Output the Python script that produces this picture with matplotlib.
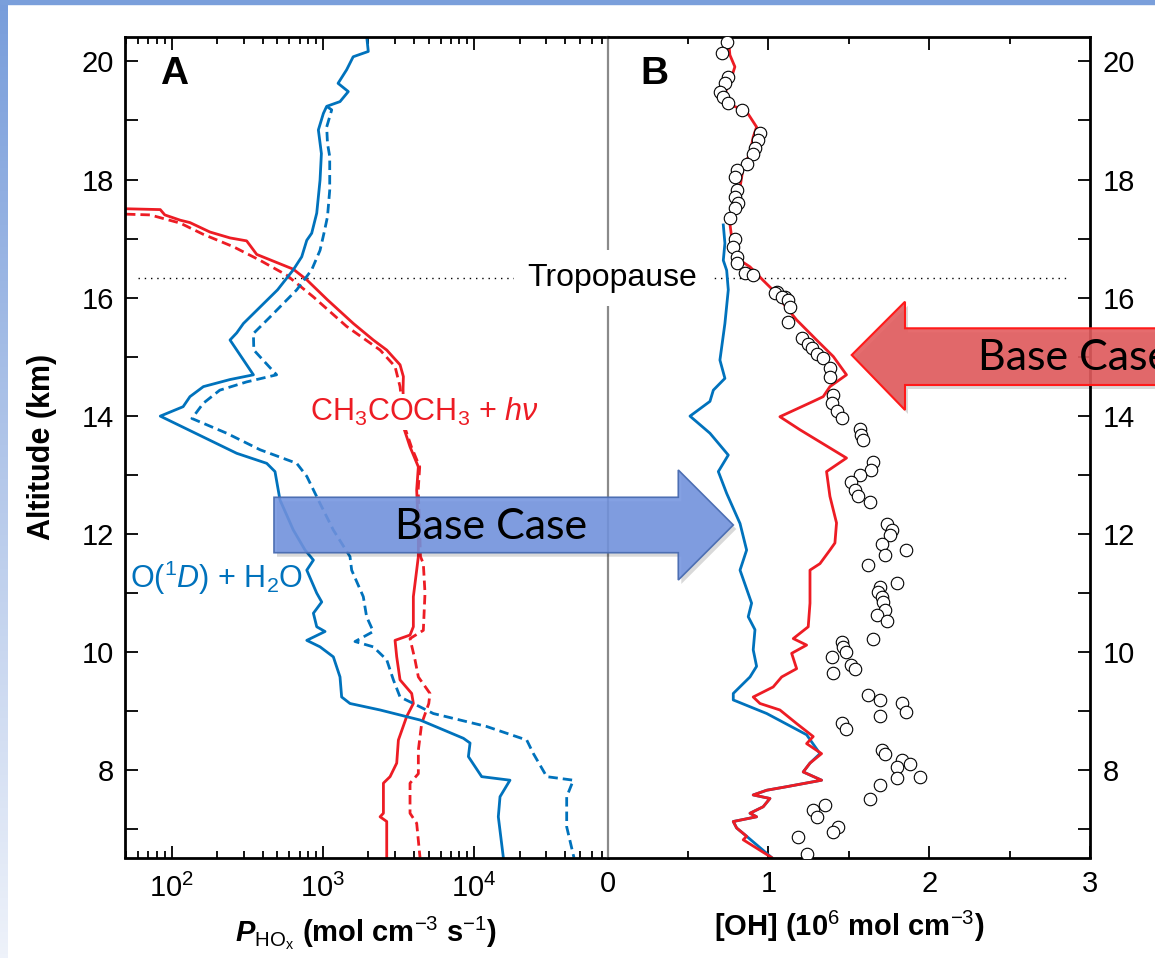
import numpy as np
import matplotlib
matplotlib.use("Agg")
import matplotlib.pyplot as plt
from matplotlib.patches import Polygon, Rectangle
from matplotlib.colors import LinearSegmentedColormap
from matplotlib.ticker import LogLocator, MultipleLocator, NullFormatter

plt.rcParams["font.family"] = ["Liberation Sans", "DejaVu Sans"]
plt.rcParams["mathtext.fontset"] = "custom"
plt.rcParams["mathtext.rm"] = "Liberation Sans"
plt.rcParams["mathtext.it"] = "Liberation Sans:italic"
plt.rcParams["mathtext.bf"] = "Liberation Sans:bold"
plt.rcParams["mathtext.bfit"] = "Liberation Sans:bold:italic"

# ---- panel A: HOx production rate (mol cm-3 s-1) vs altitude (km)
a_o1d_alt = [20.41, 20.17, 20.08, 19.86, 19.63, 19.49, 19.32, 19.24, 19.12, 18.84, 18.44, 17.99,
             17.43, 17.09, 16.97, 16.69, 16.47, 16.13, 15.56, 15.40, 15.28, 14.69, 14.61, 14.49,
             14.32, 14.15, 13.99, 13.36, 13.19, 13.05, 12.57, 12.06, 11.72, 11.55, 11.38, 10.99,
             10.84, 10.65, 10.42, 10.34, 10.19, 10.08, 9.91, 9.57, 9.23, 9.12, 9.01, 8.84, 8.53,
             8.45, 8.22, 7.88, 7.82, 7.54, 7.20, 6.51]
a_o1d_base = [1950, 1995, 1585, 1435, 1259, 1472, 1297, 1059, 1007, 933, 977, 957,
              910, 843, 782, 724, 637, 501, 298, 269, 243, 347, 243, 162,
              132, 119, 84, 269, 425, 482, 520, 637, 762, 865, 782, 910,
              982, 865, 910, 1033, 782, 957, 1172, 1297, 1330, 1510, 2388, 4385, 8492,
              9397, 9162, 11220, 17260, 14830, 14450, 15600]

a_o1d_alt2 = [19.24, 19.18, 18.89, 18.61, 18.39, 17.82, 17.37, 17.09, 16.80, 16.47, 16.13, 15.67,
              15.39, 15.11, 14.69, 14.57, 14.43, 14.21, 13.95, 13.70, 13.42, 13.19, 12.97, 12.51,
              12.06, 11.61, 11.38, 10.93, 10.59, 10.34, 10.17, 10.08, 9.86, 9.52, 9.23, 9.12,
              8.95, 8.73, 8.50, 8.27, 7.88, 7.82, 7.54, 7.03, 6.51]
a_o1d_alt_case = [1059, 1143, 1059, 1072, 1109, 1109, 1072, 1016, 957, 843, 671, 447,
                  347, 349, 494, 313, 208, 162, 136, 231, 384, 671, 782, 957,
                  1172, 1510, 1549, 1849, 1945, 2153, 1629, 2153, 2642, 2924, 3236, 3963,
                  5370, 12100, 22280, 24660, 30200, 45290, 40930, 40930, 45710]

a_ace_alt = [17.51, 17.49, 17.40, 17.31, 17.27, 17.11, 17.01, 16.96, 16.73, 16.48, 16.30, 15.96,
             15.56, 15.28, 15.11, 14.86, 14.66, 14.46, 13.81, 13.47, 13.13, 12.74, 12.06, 11.61,
             11.38, 10.93, 10.42, 10.28, 10.19, 9.91, 9.52, 9.29, 9.12, 8.90, 8.50, 8.11,
             7.88, 7.77, 7.26, 7.20, 7.12, 6.51]
a_ace_base = [40, 84, 90, 114, 132, 179, 243, 313, 365, 637, 782, 1072,
              1589, 2153, 2642, 3236, 3404, 3388, 3404, 3767, 4276, 4169, 4276, 4276,
              4169, 3963, 3963, 3767, 2999, 3076, 3236, 3864, 3963, 3581, 3155, 3076,
              2780, 2512, 2512, 2388, 2642, 2642]

a_ace_alt2 = [17.42, 17.40, 17.26, 17.07, 16.86, 16.63, 16.38, 16.01, 15.51, 15.11, 14.83, 14.49,
              13.81, 13.47, 13.13, 12.74, 12.06, 11.61, 11.49, 10.99, 10.36, 10.22, 9.86, 9.57,
              9.29, 9.12, 8.78, 8.33, 7.93, 7.77, 7.26, 7.09, 6.51]
a_ace_alt_case = [40, 72, 114, 162, 256, 384, 575, 865, 1435, 2388, 2999, 3236,
                  3467, 3846, 4365, 4266, 4365, 4416, 4613, 4732, 4613, 3767, 4064, 4276,
                  5105, 5012, 4498, 4276, 4276, 3767, 3767, 4169, 4385]

# ---- panel B: [OH] (1e6 mol cm-3) vs altitude
b_red_oh = [0.751, 0.761, 0.792, 0.772, 0.73, 0.772, 0.865, 0.927, 0.906, 0.886, 0.844, 0.824,
            0.792, 0.761, 0.772, 0.782, 0.824, 0.886, 0.968, 1.072, 1.093, 1.176, 1.30, 1.404,
            1.486, 1.383, 1.341, 1.279, 1.072, 1.196, 1.486, 1.362, 1.383, 1.424, 1.414, 1.383,
            1.321, 1.259, 1.259, 1.248, 1.155, 1.238, 1.145, 1.176, 1.083, 1.03, 0.906, 0.948,
            1.072, 1.176, 1.279, 1.238, 1.331, 1.259, 1.217, 1.331, 1.114, 0.99, 0.906, 1.01,
            0.968, 0.886, 0.927, 0.782, 0.803, 0.865, 0.844, 1.02]
b_red_alt = [20.41, 20.11, 19.91, 19.74, 19.46, 19.26, 19.15, 18.89, 18.72, 18.44, 18.21, 17.87,
             17.48, 17.25, 17.02, 16.80, 16.63, 16.52, 16.29, 16.01, 15.90, 15.62, 15.28, 15.00,
             14.69, 14.49, 14.32, 14.24, 13.98, 13.76, 13.28, 13.05, 12.63, 12.18, 11.84, 11.72,
             11.49, 11.38, 10.82, 10.42, 10.22, 10.11, 9.97, 9.71, 9.57, 9.40, 9.23, 9.12,
             9.01, 8.78, 8.56, 8.44, 8.27, 8.11, 7.96, 7.82, 7.71, 7.65, 7.57, 7.51,
             7.37, 7.26, 7.20, 7.12, 7.01, 6.87, 6.81, 6.51]

b_blue_oh = [0.72, 0.73, 0.72, 0.741, 0.751, 0.73, 0.699, 0.73, 0.658, 0.637, 0.513, 0.637,
             0.751, 0.689, 0.741, 0.824, 0.865, 0.824, 0.896, 0.875, 0.917, 0.906, 0.927, 0.886,
             0.782, 0.782, 0.99, 1.238, 1.321, 1.259, 1.217, 1.331, 1.114, 0.99, 0.906, 1.01,
             0.968, 0.886, 0.927, 0.782, 0.803, 0.865, 1.02]
b_blue_alt = [17.23, 16.92, 16.63, 16.46, 16.13, 15.56, 14.94, 14.63, 14.43, 14.24, 13.99, 13.70,
              13.33, 13.05, 12.68, 12.17, 11.72, 11.38, 10.82, 10.59, 10.37, 10.03, 9.75, 9.57,
              9.29, 9.18, 8.95, 8.59, 8.27, 8.11, 7.96, 7.82, 7.71, 7.65, 7.57, 7.51,
              7.37, 7.26, 7.20, 7.12, 7.01, 6.87, 6.51]

obs_oh = [0.741, 0.71, 0.751, 0.73, 0.699, 0.72, 0.751, 0.834, 0.948, 0.938, 0.917, 0.906,
          0.865, 0.803, 0.792, 0.803, 0.792, 0.813, 0.792, 0.761, 0.792, 0.782, 0.803, 0.803,
          0.855, 0.906, 1.052, 1.103, 1.041, 1.083, 1.124, 1.134, 1.124, 1.207, 1.248, 1.269,
          1.30, 1.341, 1.383, 1.383, 1.403, 1.393, 1.424, 1.455, 1.569, 1.579, 1.590, 1.652,
          1.641, 1.569, 1.517, 1.538, 1.559, 1.631, 1.735, 1.766, 1.756, 1.704, 1.859, 1.724,
          1.621, 1.797, 1.694, 1.683, 1.704, 1.714, 1.724, 1.673, 1.735, 1.652, 1.455, 1.466,
          1.486, 1.393, 1.517, 1.538, 1.403, 1.621, 1.694, 1.828, 1.859, 1.694, 1.461, 1.486,
          1.704, 1.724, 1.828, 1.880, 1.797, 1.942, 1.797, 1.694, 1.631, 1.352, 1.279, 1.300,
          1.434, 1.403, 1.186, 1.238]
obs_alt = [20.33, 20.14, 19.74, 19.63, 19.49, 19.40, 19.29, 19.18, 18.78, 18.67, 18.53, 18.44,
           18.27, 18.16, 18.05, 17.82, 17.71, 17.60, 17.51, 17.34, 17.00, 16.86, 16.69, 16.58,
           16.41, 16.38, 16.10, 16.01, 16.07, 16.01, 15.96, 15.84, 15.59, 15.31, 15.22, 15.14,
           15.05, 14.97, 14.80, 14.66, 14.35, 14.21, 14.07, 13.95, 13.78, 13.67, 13.59, 13.22,
           13.08, 13.00, 12.88, 12.74, 12.63, 12.54, 12.17, 12.06, 11.97, 11.83, 11.72, 11.64,
           11.47, 11.16, 11.10, 11.01, 10.93, 10.84, 10.70, 10.62, 10.51, 10.22, 10.17, 10.08,
           10.00, 9.91, 9.77, 9.70, 9.63, 9.26, 9.18, 9.12, 8.98, 8.91, 8.79, 8.68,
           8.33, 8.27, 8.16, 8.10, 8.05, 7.88, 7.85, 7.74, 7.50, 7.40, 7.32, 7.20,
           7.03, 6.95, 6.86, 6.57]

tropopause_km = 16.33

RED = "#ED1C24"
BLUE = "#0072BC"

W, H = 1155, 958


def fx(px):
    return px / W


def fy(py):
    return 1 - py / H


fig = plt.figure(figsize=(W / 100, H / 100), dpi=100)

# slide decoration (blue bands at top/left)
band = fig.add_axes([0, 0, fx(8), 1], zorder=-5)
cmap = LinearSegmentedColormap.from_list("band", ["#789ddb", "#b4c8ea", "#eef2fa"])
band.imshow(np.linspace(0, 1, 256).reshape(-1, 1), aspect="auto", cmap=cmap)
band.axis("off")
fig.patches.append(Rectangle((0, fy(4)), 1, fy(0) - fy(4), transform=fig.transFigure,
                             color="#7a9fdb", zorder=-4))

axA = fig.add_axes([fx(125), fy(857.5), fx(607.5) - fx(125), fy(37) - fy(857.5)])
axB = fig.add_axes([fx(607.5), fy(857.5), fx(1090) - fx(607.5), fy(37) - fy(857.5)])

ylim = (6.51, 20.415)

# ---- panel A
axA.set_xscale("log")
axA.plot(a_ace_alt_case, a_ace_alt2, color=RED, lw=2, ls=(0, (3.4, 1.8)))
axA.plot(a_ace_base, a_ace_alt, color=RED, lw=2)
axA.plot(a_o1d_alt_case, a_o1d_alt2, color=BLUE, lw=2, ls=(0, (3.4, 1.8)))
axA.plot(a_o1d_base, a_o1d_alt, color=BLUE, lw=2)
axA.axhline(tropopause_km, xmin=0.027, color="black", lw=1, ls=(0, (1, 3.5)), zorder=1)
axA.set_xlim(49.1, 7.62e4)
axA.set_ylim(*ylim)
axA.xaxis.set_major_locator(LogLocator(base=10, numticks=10))
axA.xaxis.set_minor_locator(LogLocator(base=10, subs=np.arange(2, 10), numticks=50))
axA.xaxis.set_minor_formatter(NullFormatter())
axA.yaxis.set_major_locator(MultipleLocator(2))
axA.yaxis.set_minor_locator(MultipleLocator(1))
axA.tick_params(which="both", direction="in", top=True, bottom=True, left=True, right=False,
                width=1.3, labelsize=21)
axA.tick_params(axis="x", which="major", length=9, pad=12)
axA.tick_params(axis="x", which="minor", length=5)
axA.tick_params(axis="y", which="both", length=9, pad=8)
axA.spines["right"].set_visible(False)
for s in ["left", "top", "bottom"]:
    axA.spines[s].set_linewidth(2)
axA.set_ylabel("Altitude (km)", fontsize=22, fontweight="bold", labelpad=18)
axA.set_xlabel(r"$\mathbfit{P}_\mathrm{HO_x}$ (mol cm$^{-3}$ s$^{-1}$)", fontsize=21,
               fontweight="bold", labelpad=8)

axA.text(820, 14.06, r"CH$_3$COCH$_3$ + $h\nu$", color=RED, fontsize=22, va="center",
         ha="left", bbox=dict(fc="white", ec="none", pad=1), zorder=6)
axA.text(53, 11.25, r"O($^1D$) + H$_2$O", color=BLUE, fontsize=22, va="center", ha="left")

# ---- panel B
axB.plot(b_blue_oh, b_blue_alt, color=BLUE, lw=2)
axB.plot(b_red_oh, b_red_alt, color=RED, lw=2)
axB.scatter(obs_oh, obs_alt, s=9 ** 2, facecolors="white", edgecolors="black",
            linewidths=0.8, zorder=5)
axB.axhline(tropopause_km, xmax=0.958, color="black", lw=1, ls=(0, (1, 3.5)), zorder=1)
axB.set_xlim(0, 3)
axB.set_ylim(*ylim)
axB.xaxis.set_major_locator(MultipleLocator(1))
axB.xaxis.set_minor_locator(MultipleLocator(0.5))
axB.yaxis.set_major_locator(MultipleLocator(2))
axB.yaxis.set_minor_locator(MultipleLocator(1))
axB.yaxis.tick_right()
axB.tick_params(which="both", direction="in", top=True, bottom=True, left=False, right=True,
                labelleft=False, labelright=True, width=1.3, labelsize=21)
axB.tick_params(axis="x", which="major", length=9, pad=9)
axB.tick_params(axis="x", which="minor", length=5)
axB.tick_params(axis="y", which="both", length=9, pad=9)
for s in ["right", "top", "bottom"]:
    axB.spines[s].set_linewidth(2)
axB.spines["left"].set_color("#8a8a8a")
axB.spines["left"].set_linewidth(1.6)
axB.set_xlabel(r"[OH] (10$^6$ mol cm$^{-3}$)", fontsize=21, fontweight="bold", labelpad=8)

# panel letters
fig.text(fx(160), fy(74), "A", fontsize=28, fontweight="bold", ha="left", va="center")
fig.text(fx(640), fy(74), "B", fontsize=28, fontweight="bold", ha="left", va="center")

fig.text(fx(612), fy(278), "Tropopause", fontsize=23, ha="center", va="center",
         bbox=dict(fc="white", ec="none", boxstyle="square,pad=0.42"), zorder=8)

# slide overlay arrows
blue_arrow = [(274, 497.3), (678.3, 497.3), (678.3, 470), (733.3, 525), (678.3, 580),
              (678.3, 552.7), (274, 552.7)]
red_arrow = [(1170, 328.3), (905, 328.3), (905, 301.7), (851.7, 355), (905, 410),
             (905, 385), (1170, 385)]


def add_arrow(pts, face, edge, lw):
    shadow = [(fx(x + 3), fy(y + 4)) for x, y in pts]
    fig.patches.append(Polygon(shadow, closed=True, transform=fig.transFigure,
                               fc="black", ec="none", alpha=0.15, zorder=18))
    fig.patches.append(Polygon([(fx(x), fy(y)) for x, y in pts], closed=True,
                               transform=fig.transFigure, fc=face, ec=edge, lw=lw, zorder=19))


add_arrow(blue_arrow, (0.45, 0.58, 0.88, 0.88), "#4d6fb3", 1.2)
add_arrow(red_arrow, (0.89, 0.36, 0.37, 0.9), "#ff1a1a", 1.5)

fig.text(fx(490.7), fy(527), "Base Case", fontsize=31, family="Lato", ha="center",
         va="center", zorder=20)
fig.text(fx(978), fy(358), "Base Case", fontsize=31, family="Lato", ha="left",
         va="center", zorder=20)

fig.savefig("out.png", dpi=100)
